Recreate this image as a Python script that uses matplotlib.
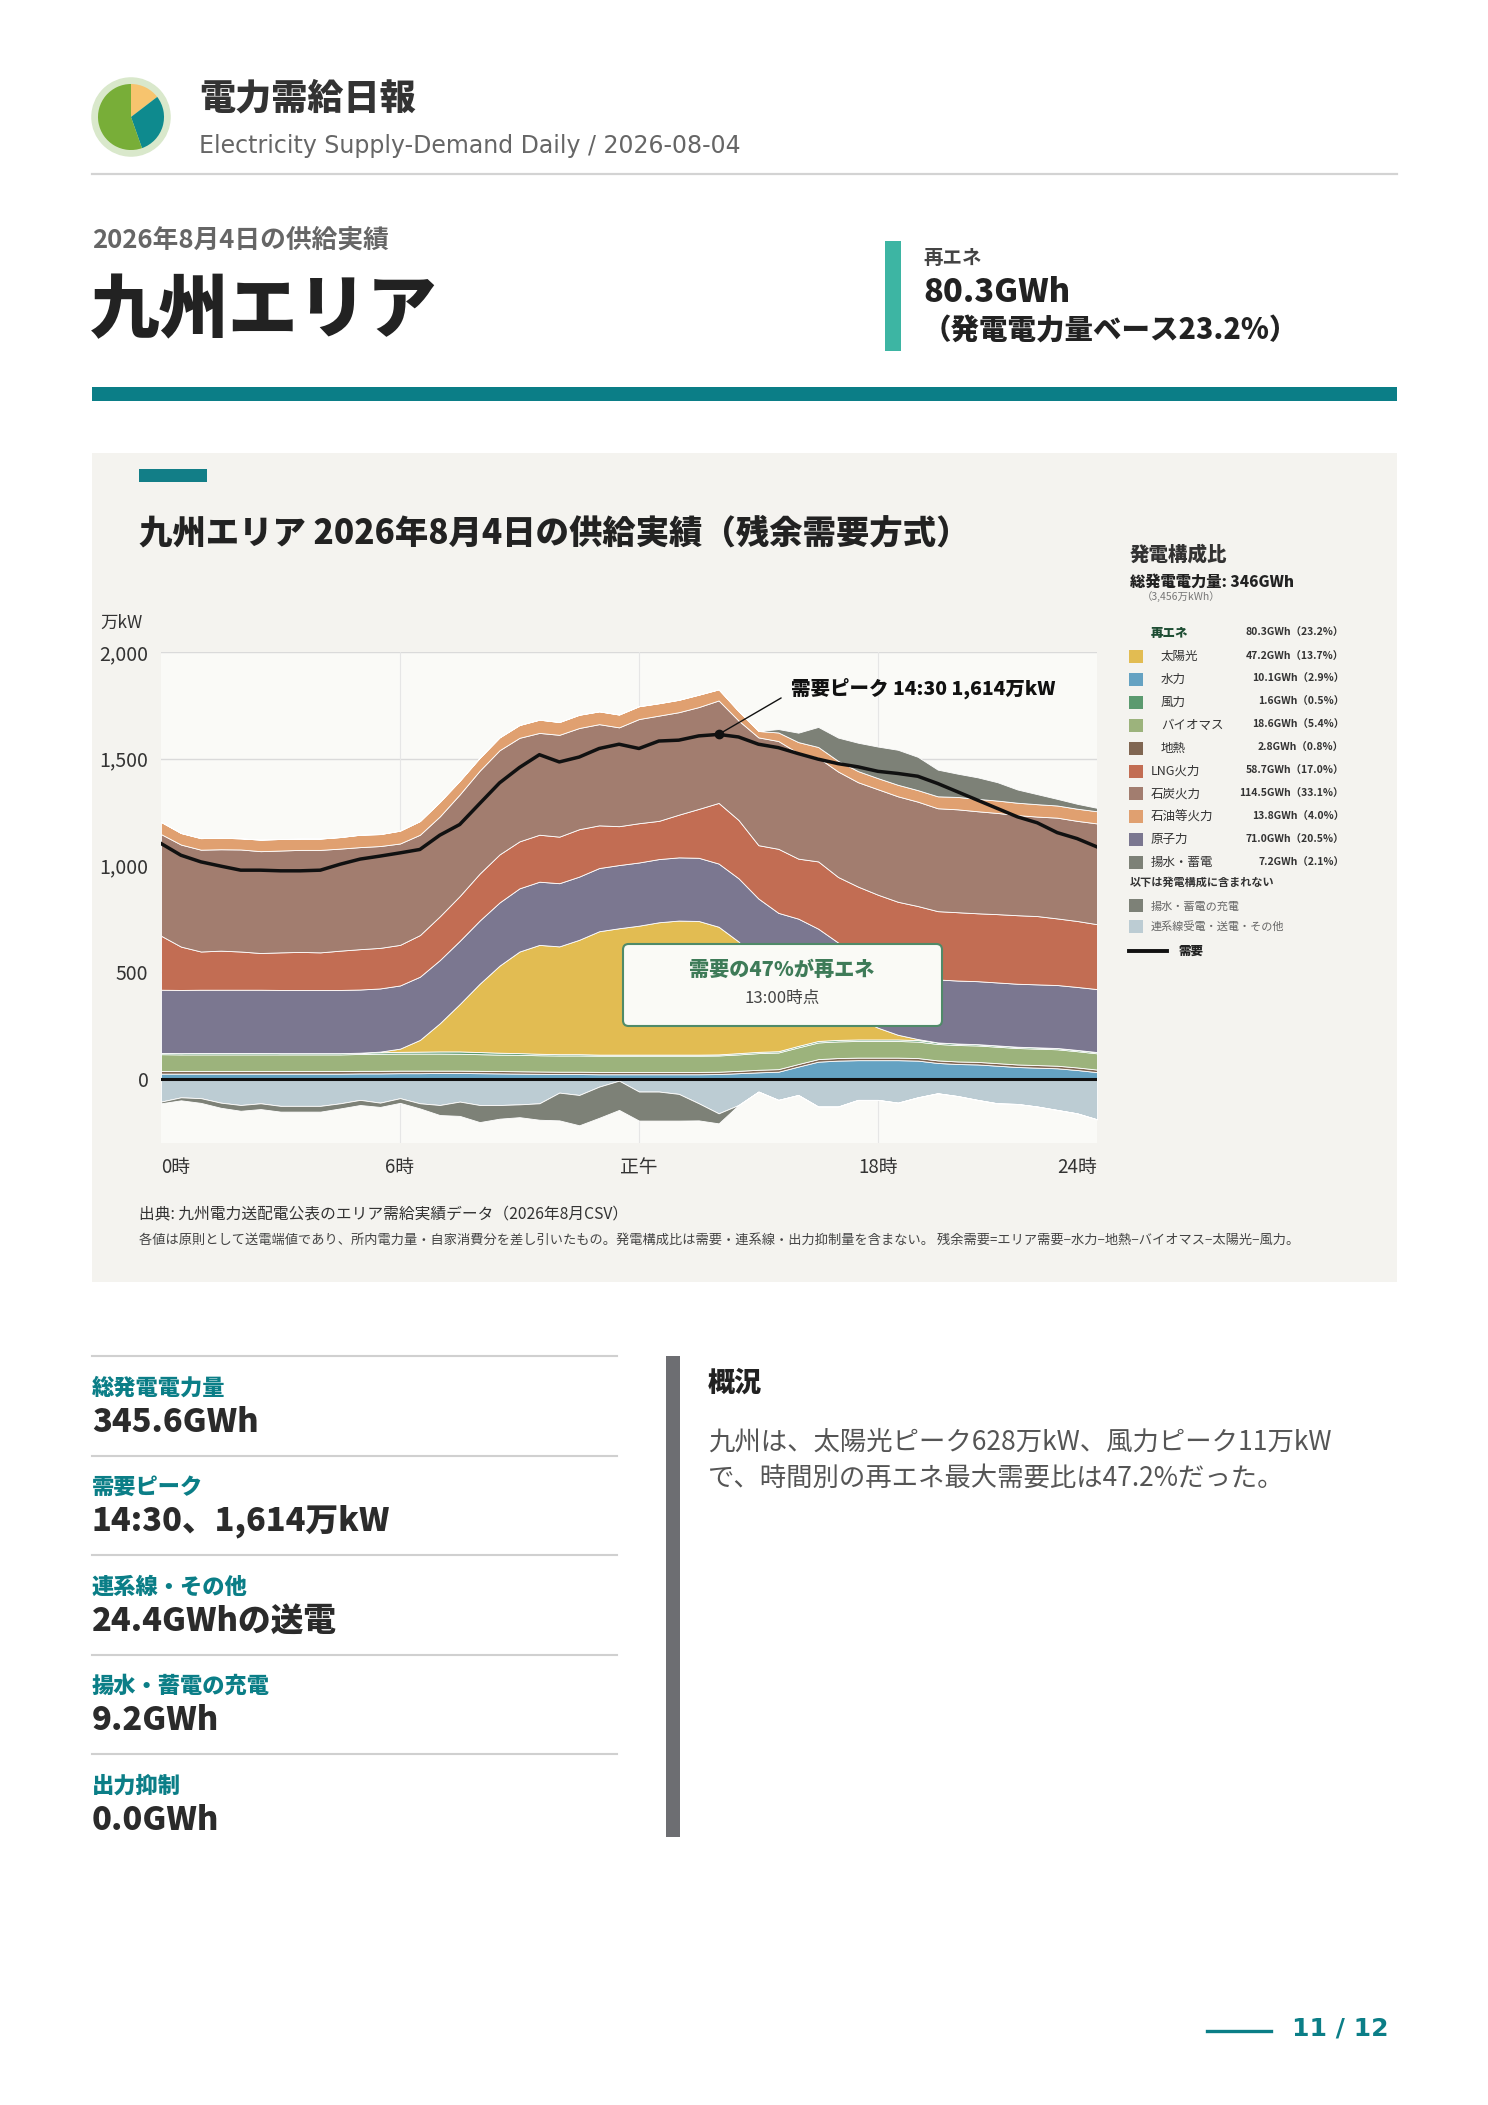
import matplotlib
matplotlib.use("Agg")
import matplotlib.pyplot as plt
import numpy as np
from matplotlib.patches import Rectangle, FancyBboxPatch, Circle
from matplotlib.lines import Line2D

plt.rcParams['font.family'] = ['Noto Sans CJK JP', 'DejaVu Sans']

W, H = 1488, 2105

# --- 30分値 (万kW) -------------------------------------------------------
hours = np.arange(48) * 0.5
demand = [1103, 1048, 1017, 997, 978, 978, 975, 975, 978, 1006, 1030, 1044,
          1059, 1075, 1142, 1192, 1290, 1387, 1459, 1519, 1485, 1508, 1548, 1568,
          1548, 1583, 1587, 1607, 1614, 1602, 1568, 1552, 1524, 1498, 1477, 1462,
          1441, 1431, 1418, 1384, 1345, 1306, 1267, 1228, 1200, 1154, 1126, 1087]
hydro = [25, 25, 25, 25, 25, 25, 25, 25, 25, 25, 26, 26,
         27, 27, 28, 28, 27, 26, 25, 24, 23, 23, 22, 22,
         22, 22, 22, 22, 23, 27, 31, 34, 58, 81, 86, 88,
         88, 88, 86, 75, 70, 68, 62, 56, 53, 50, 42, 32]
geothermal = [12, 12, 12, 12, 12, 12, 12, 12, 12, 12, 12, 12,
              12, 12, 11, 11, 11, 11, 11, 11, 11, 11, 11, 11,
              11, 11, 11, 11, 11, 11, 12, 12, 12, 12, 12, 12,
              12, 12, 12, 12, 12, 12, 12, 12, 12, 12, 12, 12]
biomass = [79, 78, 78, 78, 78, 78, 78, 78, 78, 78, 79, 80,
           80, 80, 80, 79, 78, 77, 77, 76, 76, 76, 76, 76,
           76, 76, 76, 76, 76, 77, 78, 78, 78, 78, 78, 78,
           78, 78, 77, 77, 77, 77, 77, 77, 77, 77, 76, 76]
wind = [6, 6, 7, 7, 7, 7, 6, 6, 6, 6, 6, 7,
        8, 9, 10, 11, 10, 9, 8, 7, 6, 6, 5, 5,
        5, 5, 5, 5, 5, 6, 6, 6, 7, 7, 7, 7,
        7, 7, 7, 7, 7, 6, 6, 6, 6, 6, 6, 6]
solar = [0, 0, 0, 0, 0, 0, 0, 0, 0, 0, 0, 3,
         15, 55, 132, 222, 320, 408, 476, 510, 505, 536, 578, 592,
         604, 620, 628, 626, 598, 523, 422, 352, 300, 230, 160, 100,
         55, 22, 5, 0, 0, 0, 0, 0, 0, 0, 0, 0]
nuclear = [296, 296, 296, 296, 296, 296, 296, 296, 296, 296, 296, 296,
           296, 296, 296, 296, 296, 296, 296, 296, 296, 296, 296, 296,
           296, 296, 296, 296, 296, 296, 296, 296, 296, 296, 296, 296,
           295, 295, 295, 295, 295, 295, 295, 295, 295, 295, 295, 295]
lng = [253, 203, 179, 183, 179, 172, 176, 178, 176, 184, 189, 190,
       190, 195, 205, 210, 220, 225, 220, 220, 218, 222, 200, 182,
       184, 179, 200, 229, 284, 273, 250, 300, 281, 315, 307, 320,
       328, 328, 328, 320, 320, 318, 320, 321, 320, 312, 309, 304]
coal = [476, 478, 477, 475, 478, 477, 477, 478, 480, 478, 478, 477,
        475, 470, 468, 476, 482, 488, 485, 477, 477, 474, 474, 463,
        488, 493, 480, 477, 480, 466, 505, 505, 494, 486, 494, 489,
        494, 494, 489, 482, 482, 478, 474, 469, 466, 472, 469, 472]
oil = [57, 54, 54, 54, 52, 54, 54, 53, 53, 54, 58, 56,
       60, 64, 68, 64, 60, 60, 60, 62, 60, 62, 60, 60,
       60, 58, 58, 58, 52, 44, 30, 40, 52, 50, 50, 52,
       52, 54, 54, 56, 58, 58, 58, 58, 58, 57, 57, 57]
pumped_gen = [0, 0, 0, 0, 0, 0, 0, 0, 0, 0, 0, 0,
              0, 0, 0, 0, 0, 0, 0, 0, 0, 0, 0, 0,
              0, 0, 0, 0, 0, 0, 0, 16, 44, 94, 109, 133,
              148, 164, 156, 125, 109, 101, 86, 62, 47, 31, 23, 16]
interconnect = [-106, -86, -90, -111, -122, -114, -126, -126, -126, -114, -98, -111,
                -90, -114, -122, -106, -122, -122, -119, -114, -64, -75, -36, -8,
                -59, -59, -70, -114, -161, -122, -59, -98, -75, -129, -129, -98,
                -98, -111, -86, -67, -80, -98, -114, -117, -129, -145, -161, -189]
charging = [-8, -14, -22, -24, -27, -27, -27, -27, -27, -24, -24, -20,
            -22, -24, -47, -67, -80, -64, -60, -77, -130, -142, -146, -137,
            -136, -136, -125, -80, -47, 0, 0, 0, 0, 0, 0, 0,
            0, 0, 0, 0, 0, 0, 0, 0, 0, 0, 0, 0]

# --- 発電構成比 (GWh) ----------------------------------------------------
mix_names = ['太陽光', '水力', '風力', 'バイオマス', '地熱',
             'LNG火力', '石炭火力', '石油等火力', '原子力', '揚水・蓄電']
mix_gwh = [47.2, 10.1, 1.6, 18.6, 2.8, 58.7, 114.5, 13.8, 71.0, 7.2]
renew_gwh = 80.3
total_gwh = 345.6
total_man_kwh = 3456

stat_labels = ['総発電電力量', '需要ピーク', '連系線・その他', '揚水・蓄電の充電', '出力抑制']
stat_values = ['345.6GWh', '14:30、1,614万kW', '24.4GWhの送電', '9.2GWh', '0.0GWh']

summary = ['九州は、太陽光ピーク628万kW、風力ピーク11万kW',
           'で、時間別の再エネ最大需要比は47.2%だった。']

c_solar, c_hydro, c_wind, c_bio, c_geo = '#E2BC52', '#65A2C2', '#5B9A6F', '#9CB37C', '#806652'
c_lng, c_coal, c_oil, c_nuc, c_pump = '#C26D53', '#A27D6F', '#E0A070', '#7B7790', '#7D8177'
c_inter = '#BCCCD3'
mix_colors = [c_solar, c_hydro, c_wind, c_bio, c_geo, c_lng, c_coal, c_oil, c_nuc, c_pump]
teal = '#0B7E87'


def fx(px):
    return px / W


def fy(py):
    return 1 - py / H


def rect(x0, y0, x1, y1, color, z=1):
    fig.add_artist(Rectangle((fx(x0), fy(y1)), (x1 - x0) / W, (y1 - y0) / H,
                             transform=fig.transFigure, facecolor=color,
                             edgecolor='none', zorder=z))


def txt(x, y, s, size, color='#222', weight='normal', ha='left', **kw):
    fig.text(fx(x), fy(y), s, fontsize=size, color=color, fontweight=weight,
             ha=ha, va='center', **kw)


fig = plt.figure(figsize=(W / 100, H / 100), dpi=100)
fig.patch.set_facecolor('white')

# --- header ----------------------------------------------------------------
lax = fig.add_axes([fx(131 - 42), fy(117 + 42), 84 / W, 84 / H])
lax.add_patch(Circle((0, 0), 0.93, color='#D9E8CB'))
lax.pie([0.146, 0.30, 0.554], colors=['#F7C46E', '#0E8A8E', '#78AE38'],
        radius=0.786, startangle=90, counterclock=False)
lax.set_xlim(-1, 1)
lax.set_ylim(-1, 1)
lax.axis('off')

txt(199, 98, '電力需給日報', 26, '#333', 900)
txt(199, 146, 'Electricity Supply-Demand Daily / 2026-08-04', 17, '#666',
    family=['DejaVu Sans'])
fig.add_artist(Line2D([fx(92), fx(1397)], [fy(174), fy(174)], color='#D3D3D3', lw=1.6,
                      transform=fig.transFigure))

txt(92, 240, '2026年8月4日の供給実績', 18.5, '#666', 'bold')
txt(90, 312, '九州エリア', 50, '#222', 900)
rect(885, 241, 901, 351, '#3DB5A3')
txt(923, 258, '再エネ', 14, '#444', 'bold')
txt(923, 292, f'{renew_gwh:.1f}GWh', 23.5, '#222', 900)
txt(923, 331, f'（発電電力量ベース{renew_gwh / total_gwh * 100:.1f}%）', 20.5, '#222', 900)
rect(92, 387, 1397, 401, teal)

# --- chart panel -----------------------------------------------------------
rect(92, 453, 1397, 1282, '#F4F3EF', 0)
rect(139, 469, 207, 482, '#127E87')
txt(139, 533, '九州エリア 2026年8月4日の供給実績（残余需要方式）', 24, '#222', 900)
txt(100, 623, '万kW', 12.5, '#333')

ax = fig.add_axes([fx(161), fy(1143), (1097 - 161) / W, (1143 - 652) / H])
ax.set_facecolor('#FAFAF7')
ax.stackplot(hours, hydro, geothermal, biomass, wind, solar, nuclear, lng, coal, oil, pumped_gen,
             colors=[c_hydro, c_geo, c_bio, c_wind, c_solar, c_nuc, c_lng, c_coal, c_oil, c_pump],
             edgecolor='white', linewidth=0.6, zorder=2)
ax.stackplot(hours, interconnect, charging, colors=[c_inter, c_pump],
             edgecolor='white', linewidth=0.6, zorder=2)
ax.axhline(0, color='#111', lw=2.2, zorder=4)
ax.plot(hours, demand, color='#111', lw=2.5, zorder=5)
ip = int(np.argmax(demand))
ax.plot(hours[ip], demand[ip], 'o', ms=6, color='#111', zorder=6)
ax.annotate('需要ピーク 14:30 1,614万kW', xy=(hours[ip], demand[ip]), xytext=(15.82, 1832),
            fontsize=14, fontweight=900, color='#111', ha='left', va='center',
            arrowprops=dict(arrowstyle='-', color='#111', lw=1, relpos=(0, 0.3),
                            shrinkA=6, shrinkB=3), zorder=7)

box = FancyBboxPatch((0.4936, 0.2383), 0.3408, 0.167, transform=ax.transAxes,
                     boxstyle='round,pad=0,rounding_size=0.006', mutation_aspect=1.906,
                     facecolor='#FAFAF6', edgecolor='#4F8A68', lw=1.5, zorder=8)
ax.add_patch(box)
ax.text(0.6635, 0.3523, '需要の47%が再エネ', transform=ax.transAxes, fontsize=14.5,
        fontweight=900, color='#3E7B58', ha='center', va='center', zorder=9)
ax.text(0.6635, 0.2953, '13:00時点', transform=ax.transAxes, fontsize=12,
        color='#444', ha='center', va='center', zorder=9)

ax.set_xlim(0, 23.5)
ax.set_ylim(-300, 2000)
ax.set_yticks([0, 500, 1000, 1500, 2000])
ax.set_yticklabels(['0', '500', '1,000', '1,500', '2,000'])
ax.set_xticks([0, 6, 12, 18, 23.5])
ax.set_xticklabels(['0時', '6時', '正午', '18時', '24時'])
xl = ax.get_xticklabels()
xl[0].set_ha('left')
xl[-1].set_ha('right')
ax.tick_params(axis='y', length=0, pad=9, labelsize=14, labelcolor='#333')
ax.tick_params(axis='x', length=0, pad=10, labelsize=13.5, labelcolor='#333')
ax.grid(axis='y', color='#DADADA', lw=1, zorder=1)
for v in [6, 12, 18]:
    ax.axvline(v, color='#E6E6E6', lw=0.8, zorder=1)
for s in ax.spines.values():
    s.set_visible(False)
ax.set_axisbelow(True)

txt(139, 1215, '出典: 九州電力送配電公表のエリア需給実績データ（2026年8月CSV）', 11.3, '#333')
txt(139, 1240, '各値は原則として送電端値であり、所内電力量・自家消費分を差し引いたもの。'
               '発電構成比は需要・連系線・出力抑制量を含まない。 '
               '残余需要=エリア需要−水力−地熱−バイオマス−太陽光−風力。', 9.5, '#444')

# --- legend ----------------------------------------------------------------
txt(1130, 555, '発電構成比', 14, '#333', 900)
txt(1130, 582, f'総発電電力量: {total_gwh:.0f}GWh', 11, '#222', 900)
txt(1142, 597, f'（{total_man_kwh:,}万kWh）', 7.5, '#777')
txt(1151, 633, '再エネ', 9, '#1E4D33', 900)
txt(1344, 633, f'{renew_gwh:.1f}GWh（{renew_gwh / total_gwh * 100:.1f}%）', 7.5, '#333', 'bold', ha='right')
for i, (nm, g, col) in enumerate(zip(mix_names, mix_gwh, mix_colors)):
    yy = 656.5 + 22.9 * i
    rect(1129, yy - 6.5, 1143, yy + 6.5, col)
    txt(1161 if i < 5 else 1151, yy, nm, 9, '#333')
    txt(1344, yy, f'{g:.1f}GWh（{g / total_gwh * 100:.1f}%）', 7.5, '#333', 'bold', ha='right')
txt(1130, 882, '以下は発電構成に含まれない', 8, '#333', 'bold')
rect(1129, 899, 1143, 912, c_pump)
txt(1151, 907, '揚水・蓄電の充電', 8, '#666')
rect(1129, 920, 1143, 933, c_inter)
txt(1151, 926, '連系線受電・送電・その他', 8, '#666')
fig.add_artist(Line2D([fx(1129), fx(1167)], [fy(951), fy(951)], color='#111', lw=2.8,
                      transform=fig.transFigure))
txt(1178, 951, '需要', 9, '#222', 900)

# --- bottom stats ----------------------------------------------------------
for i, (lb, vl) in enumerate(zip(stat_labels, stat_values)):
    y0 = 1356 + 99.5 * i
    fig.add_artist(Line2D([fx(92), fx(617)], [fy(y0), fy(y0)], color='#D0D0D0', lw=1.5,
                          transform=fig.transFigure))
    txt(92, y0 + 32, lb, 16, teal, 900)
    txt(92, y0 + 66, vl, 23.5, '#2B2B2B', 900)

rect(666, 1356, 680, 1837, '#6D6E72')
txt(708, 1382, '概況', 19.5, '#222', 900)
for i, line in enumerate(summary):
    txt(708, 1442 + 36 * i, line, 19, '#555')

fig.add_artist(Line2D([fx(1207), fx(1271)], [fy(2031), fy(2031)], color=teal, lw=2.4,
                      transform=fig.transFigure))
txt(1292, 2028, '11 / 12', 18, teal, 'bold', family=['DejaVu Sans'])

fig.savefig('out.png', dpi=100, facecolor='white')
